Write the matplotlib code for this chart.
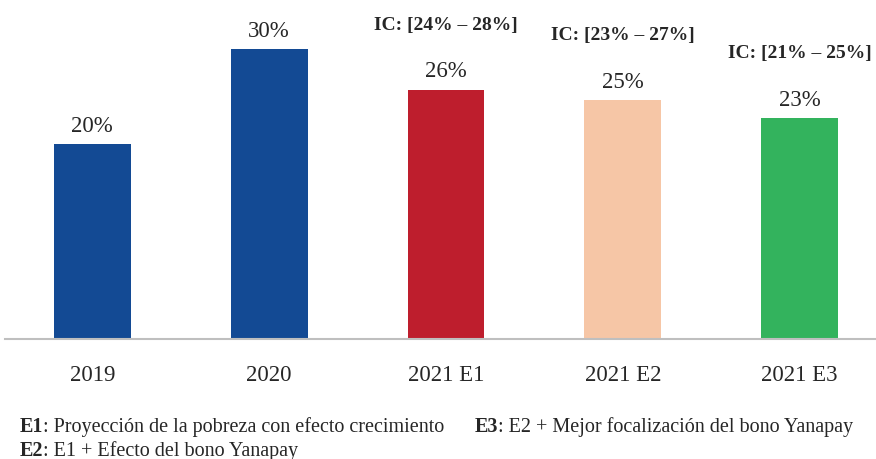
import matplotlib.pyplot as plt

# data
categories = ["2019", "2020", "2021 E1", "2021 E2", "2021 E3"]
values = [20.1, 29.9, 25.7, 24.6, 22.8]
value_labels = ["20%", "30%", "26%", "25%", "23%"]
ic_labels = [None, None, "IC: [24% – 28%]", "IC: [23% – 27%]", "IC: [21% – 25%]"]
colors = ["#134a94", "#134a94", "#be1e2d", "#f6c6a6", "#33b35d"]

notes = [
    ("E1", ": Proyección de la pobreza con efecto crecimiento"),
    ("E3", ": E2 + Mejor focalización del bono Yanapay"),
    ("E2", ": E1 + Efecto del bono Yanapay"),
]

plt.rcParams["font.family"] = ["Liberation Serif", "DejaVu Serif"]
text_color = "#262626"

fig = plt.figure(figsize=(8.76, 4.6), dpi=100)
ax = fig.add_axes([0.0057, 0.261, 0.994, 0.739])

x = range(len(categories))
bars = ax.bar(x, values, width=0.435, color=colors, zorder=2)

for bar, lab, ic in zip(bars, value_labels, ic_labels):
    cx = bar.get_x() + bar.get_width() / 2
    top = bar.get_height()
    ax.annotate(lab, (cx, top), xytext=(0, 9.5), textcoords="offset points",
                ha="center", va="baseline", fontsize=16.5, color=text_color)
    if ic:
        ax.annotate(ic, (cx, top), xytext=(0, 44), textcoords="offset points",
                    ha="center", va="baseline", fontsize=14, fontweight="bold",
                    color=text_color)

ax.set_xlim(-0.494, 4.43)
ax.set_ylim(0, 35.05)
ax.set_xticks(list(x))
ax.set_xticklabels(categories, fontsize=16.5, color=text_color)
ax.tick_params(axis="x", length=0, pad=18)
ax.set_yticks([])
for side in ["left", "right", "top"]:
    ax.spines[side].set_visible(False)
ax.spines["bottom"].set_color("#bfbfbf")
ax.spines["bottom"].set_linewidth(1.5)

# footnotes: bold key followed by normal text
note_pos = [(0.022, 0.061), (0.542, 0.061), (0.022, 0.008)]
for (key, rest), (fx, fy) in zip(notes, note_pos):
    t = fig.text(fx, fy, key, fontsize=14.5, fontweight="bold", color=text_color,
                 ha="left", va="baseline")
    plt.annotate(rest, xy=(1, 0), xycoords=t, ha="left", va="bottom",
                 fontsize=14.5, color=text_color)

fig.savefig("out.png", dpi=100)
